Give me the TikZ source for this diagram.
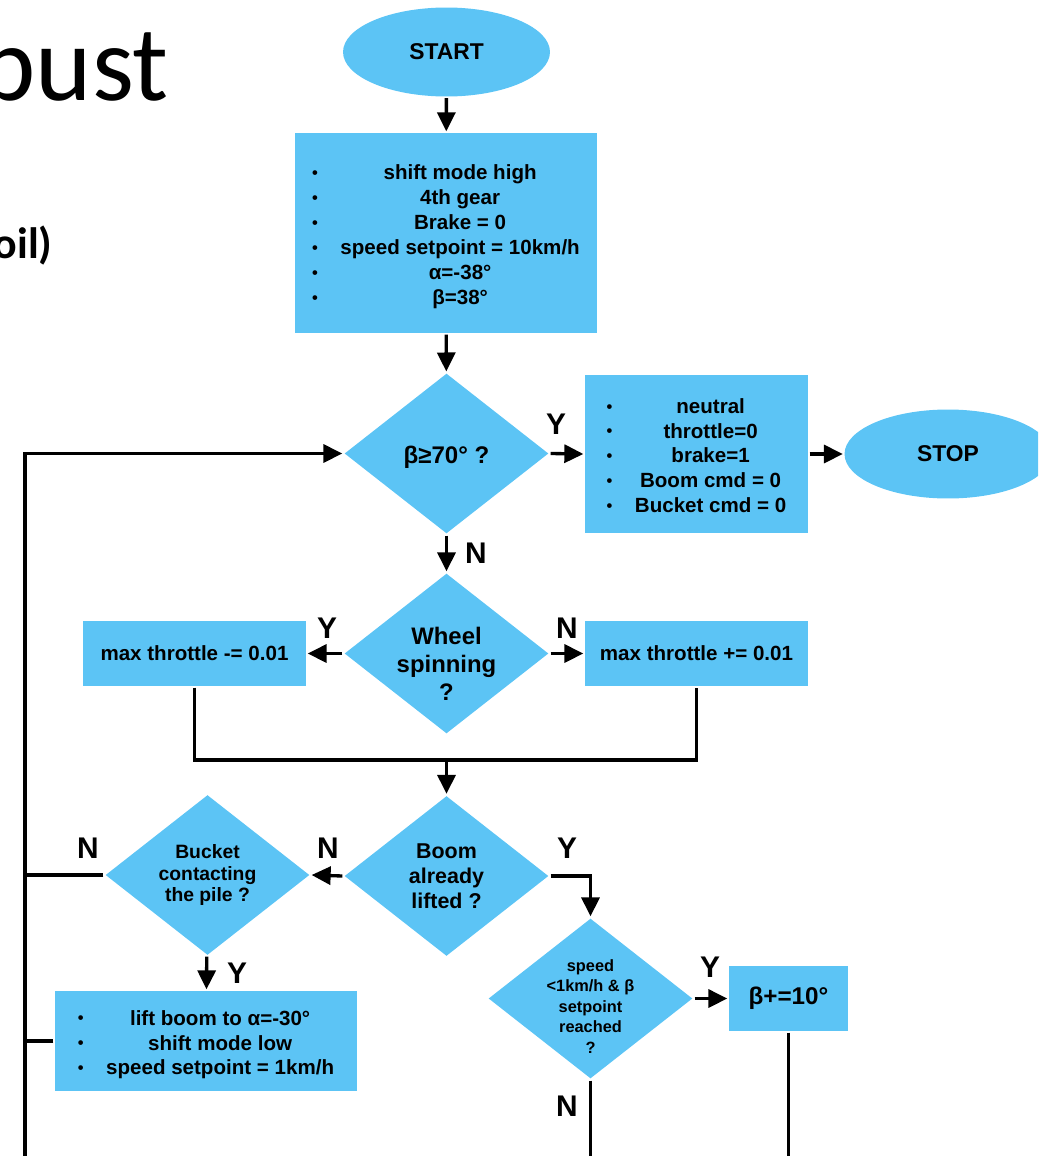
\documentclass[tikz,border=0pt]{standalone}
\usepackage{fontspec}
\setmainfont{Liberation Sans}
\newfontfamily\slidefont{Carlito}
\usepackage{graphicx}
\usetikzlibrary{shapes.geometric,arrows.meta}

\definecolor{flowblue}{RGB}{92,196,245}

\newcommand{\tb}{\raisebox{0.1ex}{\scalebox{0.8}{\textbullet}}}
\newcommand{\bitems}[1]{\raisebox{-0.08cm}[\height][\depth]{\begin{tabular}{@{}c@{\hspace{0.45cm}}c@{}}#1\end{tabular}}}

\tikzset{
  term/.style={ellipse, fill=flowblue, minimum width=4.14cm, minimum height=1.78cm,
    inner sep=0pt, font=\fontsize{13}{15}\bfseries\selectfont},
  boxnode/.style={rectangle, fill=flowblue, inner sep=0pt, align=center,
    font=\fontsize{11.7}{14.2}\bfseries\selectfont},
  test/.style={diamond, fill=flowblue, minimum width=4.1cm, minimum height=3.22cm,
    inner sep=0pt},
  testtext/.style={align=center, inner sep=0pt},
  yn/.style={font=\fontsize{17}{17}\bfseries\selectfont, inner sep=0pt}
}

\begin{document}
\begin{tikzpicture}[x=0.02cm, y=-0.02cm, line width=1.9pt,
  >={Triangle[length=0.38cm, width=0.36cm]}]
  \useasboundingbox (0,0) rectangle (1038,1156);
  \clip (0,0) rectangle (1038,1156);

  % Slide text
  \node (title) [font=\slidefont\fontsize{61}{61}\selectfont, anchor=base west, inner sep=0pt] at (-22,100) {bust};
  \node (subtitle) [font=\slidefont\bfseries\fontsize{25}{25}\selectfont, anchor=base west, inner sep=0pt] at (-8,258) {oil)};

  % Start and setup
  \node (start) [term] at (446.5,52) {START};
  \node (setup) [boxnode, minimum width=6.04cm, minimum height=4cm] at (446,233)
    {\bitems{\tb & shift mode high \\ \tb & 4th gear \\ \tb & Brake = 0 \\
      \tb & speed setpoint = 10km/h \\ \tb & α=-38° \\ \tb & β=38°}};

  % Stop branch
  \node (angle) [test, label={[testtext, yshift=-0.08cm, font=\fontsize{13.7}{16}\bfseries\selectfont]center:β≥70° ?}] at (446.5,453.5) {};
  \node (stopcmd) [boxnode, minimum width=4.46cm, minimum height=3.16cm] at (696.5,454)
    {\bitems{\tb & neutral \\ \tb & throttle=0 \\ \tb & brake=1 \\ \tb & Boom cmd = 0 \\ \tb & Bucket cmd = 0}};
  \node (stop) [term] at (948,454) {STOP};

  % Throttle
  \node (wheel) [test, label={[testtext, yshift=-0.2cm, font=\fontsize{13.6}{16}\bfseries\selectfont]center:Wheel\\spinning\\?}] at (446.5,653.5) {};
  \node (thrdown) [boxnode, minimum width=4.46cm, minimum height=1.3cm] at (194.5,653.5) {max throttle -= 0.01};
  \node (thrup) [boxnode, minimum width=4.46cm, minimum height=1.3cm] at (696.5,653.5) {max throttle += 0.01};
  \coordinate (merge) at (446.5,760);

  % Boom and bucket
  \node (boom) [test, label={[testtext, font=\fontsize{12.2}{14.2}\bfseries\selectfont]center:Boom\\already\\lifted ?}] at (446.5,876) {};
  \node (bucket) [test, label={[testtext, font=\fontsize{11}{12.5}\bfseries\selectfont]center:Bucket\\contacting\\the pile ?}] at (207.5,875) {};
  \node (lift) [boxnode, minimum width=6.04cm, minimum height=2cm] at (206,1041)
    {\bitems{\tb & lift boom to α=-30° \\ \tb & shift mode low \\ \tb & speed setpoint = 1km/h}};
  \node (speed) [test, label={[testtext, yshift=-0.16cm, font=\fontsize{9.3}{11.7}\bfseries\selectfont]center:speed\\<1km/h \& β\\setpoint\\reached\\?}] at (590.5,998.5) {};
  \node (betaup) [boxnode, minimum width=2.38cm, minimum height=1.3cm,
    font=\fontsize{13.8}{16}\bfseries\selectfont] at (788.5,998.5) {β+=10°};

  % Loop line
  \coordinate (loopbot) at (25,1156);

  % Y / N labels
  \node (y1) [yn] at (556,424) {Y};
  \node (n1) [yn] at (476,553) {N};
  \node (y2) [yn] at (327,628) {Y};
  \node (n2) [yn] at (567,628) {N};
  \node (n3) [yn] at (328,848) {N};
  \node (y3) [yn] at (567,848) {Y};
  \node (n4) [yn] at (88,848) {N};
  \node (y4) [yn] at (237,973) {Y};
  \node (y5) [yn] at (710,967) {Y};
  \node (n5) [yn] at (567,1106) {N};

  % Connectors
  \draw[->] (start) -- (setup);
  \draw[->] (setup) -- (angle);
  \draw[->] (angle.east) -- (stopcmd.west);
  \draw[->] (stopcmd.east) -- (stop.west);
  \draw[->] (angle) -- (wheel);
  \draw[->] (wheel.west) -- (thrdown.east);
  \draw[->] (wheel.east) -- (thrup.west);
  \draw (thrdown.south) |- (merge) -| (thrup.south);
  \draw[->] (merge) -- (boom);
  \draw[->] (boom.west) -- (bucket.east);
  \draw[->] (boom.east) -| (speed.north);
  \draw[->] (bucket) -- (lift);
  \draw[->] (speed.east) -- (betaup.west);
  \draw[->] (loopbot) |- (angle.west);
  \draw (bucket.west) -- (bucket.west -| loopbot);
  \draw (lift.west) -- (lift.west -| loopbot);
  \draw (speed.south) -- (speed.south |- loopbot);
  \draw (betaup.south) -- (betaup.south |- loopbot);
\end{tikzpicture}
\end{document}
